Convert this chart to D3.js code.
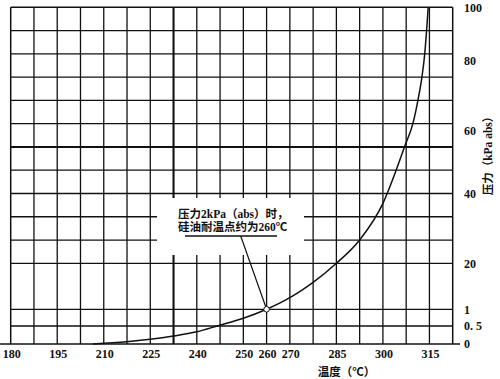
<!DOCTYPE html>
<html>
<head>
<meta charset="utf-8">
<script src="https://cdn.jsdelivr.net/npm/d3@7"></script>
<style>
  html, body { margin: 0; padding: 0; background: #fff; }
  svg { display: block; }
  .num { font-family: "Liberation Serif", "Noto Sans CJK SC", serif; font-weight: bold; font-size: 12px; fill: #111; }
  .cjk { font-family: "Liberation Serif", "Noto Sans CJK SC", serif; fill: #111; }
</style>
</head>
<body>
<svg id="chart" width="500" height="379"></svg>
<script>
// ---- data ----
const tempTicks = [180, 195, 210, 225, 240, 250, 260, 270, 285, 300, 315];
const pressureTicks = [0, 0.5, 1, 20, 40, 60, 80, 100];
const pressureTickLabels = ["0", "0. 5", "1", "20", "40", "60", "80", "100"];
const curveTemps = [206.5, 217.4, 225, 232.4, 240, 244.6, 250, 260, 270, 273.3, 277.6, 285, 292.5, 300, 304.3, 307, 309.7, 311.3, 312.6, 313.5, 314.1, 314.6];
const curvePressures = [0, 0.06, 0.13, 0.22, 0.34, 0.51, 0.73, 1.0, 5.8, 8.4, 12.2, 20, 26.7, 37.2, 47.5, 54.9, 62.1, 68.7, 75.4, 82.7, 91.5, 100];
const markTemp = 260, markPressure = 1;
const annotationLines = ["压力2kPa（abs）时，", "硅油耐温点约为260℃"];
const xTitle = "温度（℃）";
const yTitle = "压力（kPa abs）";

(function () {
// ---- layout ----
const svg = d3.select("#chart");
const pLeft = 10.7, pRight = 452.7, pTop = 7.3, pBottom = 344;
const nCols = 19;
const colScale = d3.scaleLinear().domain([0, nCols]).range([pLeft, pRight]);
// grid column index for each labelled temperature (non-uniform axis)
const tempCols = [0, 2, 4, 6, 8, 10, 11, 12, 14, 16, 18];
const x = d3.scaleLinear().domain(tempTicks).range(tempCols.map(colScale));

const rowScale = d3.scaleLinear().domain([0, 11]).range([pTop, 263.3]);
const y = d3.scaleLinear().domain(pressureTicks)
  .range([pBottom, 326, 309.3, rowScale(11), 193.6, 130.5, 60.5, pTop]);

const g = svg.append("g");

// vertical grid lines
const cols = d3.range(0, nCols + 1);
g.selectAll("line.v").data(cols).join("line")
  .attr("x1", d => colScale(d)).attr("x2", d => colScale(d))
  .attr("y1", pTop).attr("y2", pBottom)
  .attr("stroke", "#111")
  .attr("stroke-width", d => (d === 7 ? 2.1 : (d === 0 || d === nCols ? 1.5 : 1.3)));

// horizontal grid lines
const rows = d3.range(0, 12).map(r => rowScale(r)).concat([y(1), y(0.5)]);
g.selectAll("line.h").data(rows).join("line")
  .attr("x1", pLeft).attr("x2", pRight)
  .attr("y1", d => d).attr("y2", d => d)
  .attr("stroke", "#111")
  .attr("stroke-width", (d, i) => (i === 6 ? 2 : (i === 0 ? 1.5 : 1.3)));

// bottom axis line
g.append("line").attr("x1", 0).attr("x2", 460).attr("y1", pBottom).attr("y2", pBottom)
  .attr("stroke", "#111").attr("stroke-width", 1.6);

// annotation white box
g.append("rect").attr("x", 157).attr("y", 198).attr("width", 147).attr("height", 57).attr("fill", "#fff");

// curve
const pts = curveTemps.map((t, i) => [t, curvePressures[i]]);
const line = d3.line().x(d => x(d[0])).y(d => y(d[1])).curve(d3.curveMonotoneX);
g.append("path").attr("d", line(pts)).attr("fill", "none").attr("stroke", "#111").attr("stroke-width", 1.5);

// x tick labels
g.selectAll("text.xt").data(tempTicks).join("text")
  .attr("class", "num")
  .attr("x", d => x(d) + 1).attr("y", 358)
  .attr("text-anchor", "middle")
  .text(d => d);

// y tick labels
g.selectAll("text.yt").data(pressureTicks).join("text")
  .attr("class", "num")
  .attr("x", 464).attr("y", d => y(d)).attr("dy", "0.35em")
  .text((d, i) => pressureTickLabels[i]);

// axis titles
g.append("text").attr("class", "cjk").attr("font-size", 11.5).attr("font-weight", "bold")
  .attr("x", 346.5).attr("y", 376).attr("text-anchor", "middle").text(xTitle);
g.append("text").attr("class", "cjk").attr("font-size", 11.5).attr("font-weight", "bold")
  .attr("transform", "translate(492,153) rotate(-90)").attr("text-anchor", "middle").text(yTitle);

// annotation text
g.selectAll("text.ann").data(annotationLines).join("text")
  .attr("class", "cjk").attr("font-size", 11.5).attr("font-weight", "bold")
  .attr("x", 178).attr("y", (d, i) => 218 + i * 13)
  .text(d => d);
g.append("line").attr("x1", 185).attr("x2", 277).attr("y1", 236).attr("y2", 236)
  .attr("stroke", "#111").attr("stroke-width", 1.3);
g.append("line").attr("x1", 240.7).attr("y1", 236)
  .attr("x2", x(markTemp)).attr("y2", y(markPressure))
  .attr("stroke", "#111").attr("stroke-width", 1.2);
g.append("circle").attr("cx", x(markTemp)).attr("cy", y(markPressure)).attr("r", 2.8)
  .attr("fill", "#fff").attr("stroke", "#111").attr("stroke-width", 1);
})();
</script>
</body>
</html>
